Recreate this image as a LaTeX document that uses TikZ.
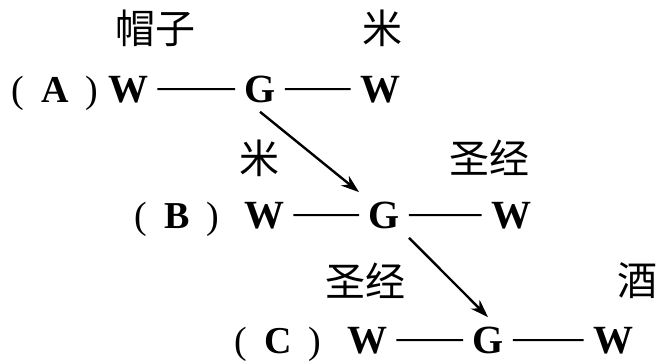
\documentclass[tikz,border=0pt]{standalone}
\usepackage{fontspec}
\setmainfont{Liberation Serif}
\newfontfamily\cjk{Noto Sans CJK SC}
\usetikzlibrary{arrows.meta, positioning}
\tikzset{
  letter/.style={font=\fontsize{20}{24}\selectfont\bfseries, inner sep=4.5pt, anchor=base},
  rowlbl/.style={font=\fontsize{19}{24}\selectfont, inner sep=0pt, anchor=base},
  word/.style={font=\fontsize{20}{22}\selectfont\cjk, inner sep=0pt},
  link/.style={line width=1pt},
  arr/.style={-{Stealth[length=3.2mm, width=2.2mm]}, line width=1.2pt},
}
\begin{document}
\begin{tikzpicture}[x=0.5pt, y=-0.5pt]
\useasboundingbox (0,0) rectangle (656,361);

% row A
\node[rowlbl] (lblA) at (55,102) {(\hspace{0.45em}\textbf{A}\hspace{0.45em})};
\node[letter] (wA1) at (128,102) {W};
\node[letter] (gA) at (260,102) {G};
\node[letter] (wA2) at (380,102) {W};
\node[word] (hat) at (155,28) {帽子};
\node[word] (riceA) at (382,28) {米};

% row B
\node[rowlbl] (lblB) at (177,228) {(\hspace{0.45em}\textbf{B}\hspace{0.45em})};
\node[letter] (wB1) at (264,228) {W};
\node[letter] (gB) at (384,228) {G};
\node[letter] (wB2) at (511,228) {W};
\node[word] (riceB) at (259,158) {米};
\node[word] (bibleB) at (489,158) {圣经};

% row C
\node[rowlbl] (lblC) at (278,353) {(\hspace{0.45em}\textbf{C}\hspace{0.45em})};
\node[letter] (wC1) at (367,353) {W};
\node[letter] (gC) at (488,353) {G};
\node[letter] (wC2) at (613,353) {W};
\node[word] (bibleC) at (365,281) {圣经};
\node[word] (wine) at (637,281) {酒};

\draw[link] (wA1) -- (gA);
\draw[link] (gA) -- (wA2);
\draw[link] (wB1) -- (gB);
\draw[link] (gB) -- (wB2);
\draw[link] (wC1) -- (gC);
\draw[link] (gC) -- (wC2);

% G to G
\draw[arr] (gA.south) -- (gB.north west);
\draw[arr] (gB.south east) -- (gC.north);

\end{tikzpicture}
\end{document}
